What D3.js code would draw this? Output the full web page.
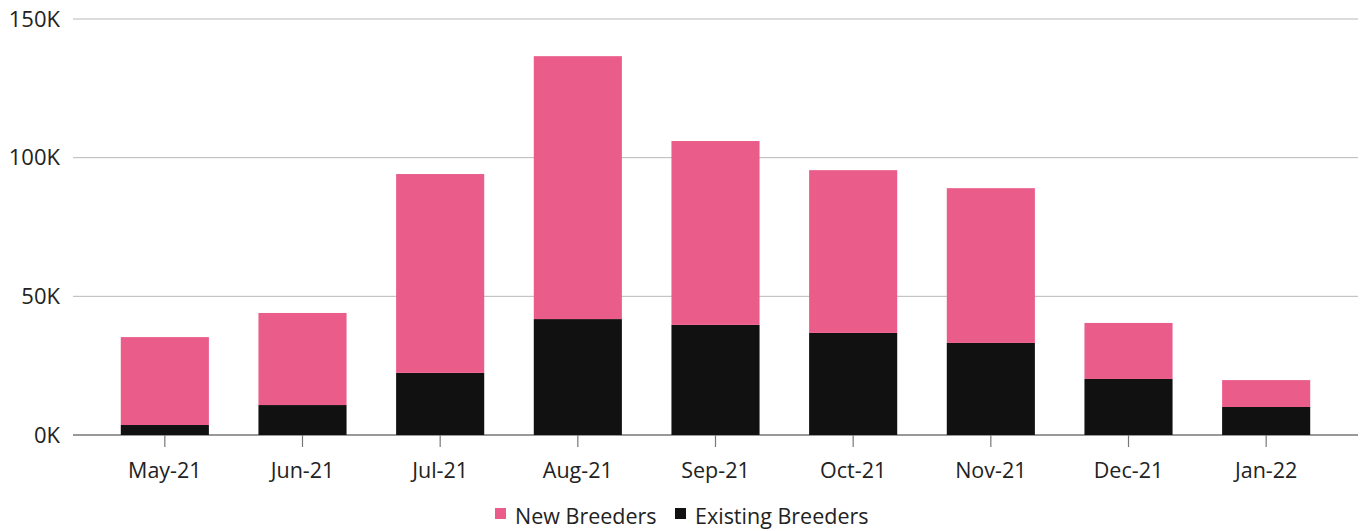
<!DOCTYPE html>
<html>
<head>
<meta charset="utf-8">
<script src="https://cdn.jsdelivr.net/npm/d3@7"></script>
<style>
  body { margin: 0; background: #fff; }
  #chart { width: 1360px; height: 531px; }
  text { font-family: "Open Sans", Roboto, sans-serif; fill: #222; }
</style>
</head>
<body>
<div id="chart"></div>
<script>
// data (thousands)
const months = ['May-21','Jun-21','Jul-21','Aug-21','Sep-21','Oct-21','Nov-21','Dec-21','Jan-22'];
const existing = [3.6, 10.8, 22.4, 41.8, 39.7, 36.8, 33.2, 20.2, 10.1];
const newBreeders = [31.7, 33.2, 71.7, 94.8, 66.3, 58.7, 55.8, 20.2, 9.7];
const yTicks = [0, 50, 100, 150];
const seriesNames = ['New Breeders', 'Existing Breeders'];
const colors = {'New Breeders': '#ea5d8b', 'Existing Breeders': '#111111'};

const width = 1360, height = 531;
const gridLeft = 73, gridRight = 1358;

let svg = d3.select('#chart').append('svg')
    .attr('width', width)
    .attr('height', height);

let x = d3.scaleBand()
    .domain(months)
    .range([96, 1335])
    .paddingInner(0.36)
    .paddingOuter(0.18);

let y = d3.scaleLinear()
    .domain([0, 150])
    .range([435, 19]);

// gridlines + y labels
let grid = svg.append('g');
grid.selectAll('line')
    .data(yTicks)
    .enter().append('line')
    .attr('x1', gridLeft)
    .attr('x2', gridRight)
    .attr('y1', d => y(d))
    .attr('y2', d => y(d))
    .attr('stroke', d => d === 0 ? '#777' : '#b8b8b8')
    .attr('stroke-width', d => d === 0 ? 1.3 : 1);

grid.selectAll('text')
    .data(yTicks)
    .enter().append('text')
    .attr('x', 60)
    .attr('y', d => y(d))
    .attr('dy', '0.35em')
    .attr('text-anchor', 'end')
    .attr('font-size', 22)
    .text(d => d + 'K');

// stacked bars
const rows = months.map((m, i) => ({month: m, 'Existing Breeders': existing[i], 'New Breeders': newBreeders[i]}));
const stack = d3.stack().keys(['Existing Breeders', 'New Breeders'])(rows);

svg.append('g')
    .selectAll('g')
    .data(stack)
    .enter().append('g')
    .attr('fill', d => colors[d.key])
    .selectAll('rect')
    .data(d => d)
    .enter().append('rect')
    .attr('x', d => x(d.data.month))
    .attr('width', x.bandwidth())
    .attr('y', d => y(d[1]))
    .attr('height', d => y(d[0]) - y(d[1]));

// x axis ticks + labels
let xa = svg.append('g');
xa.selectAll('line')
    .data(months)
    .enter().append('line')
    .attr('x1', d => x(d) + x.bandwidth() / 2)
    .attr('x2', d => x(d) + x.bandwidth() / 2)
    .attr('y1', 435)
    .attr('y2', 447)
    .attr('stroke', '#777')
    .attr('stroke-width', 1.2);

xa.selectAll('text')
    .data(months)
    .enter().append('text')
    .attr('x', d => x(d) + x.bandwidth() / 2)
    .attr('y', 478)
    .attr('text-anchor', 'middle')
    .attr('font-size', 21.5)
    .text(d => d);

// legend
let legend = svg.append('g');
const legendX = [495, 675];
seriesNames.forEach((name, i) => {
    legend.append('rect')
        .attr('x', legendX[i])
        .attr('y', 508)
        .attr('width', 11)
        .attr('height', 11)
        .attr('fill', colors[name]);
    legend.append('text')
        .attr('x', legendX[i] + 20)
        .attr('y', 524)
        .attr('font-size', 21.5)
        .text(name);
});
</script>
</body>
</html>
